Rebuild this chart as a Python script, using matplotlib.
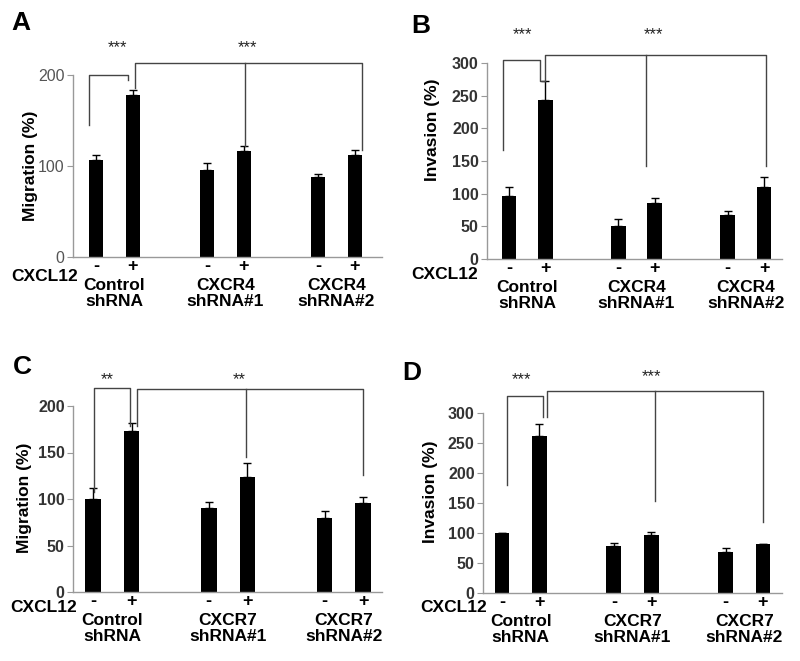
import matplotlib
matplotlib.use('Agg')
import matplotlib.pyplot as plt

plt.rcParams['font.family'] = ['Liberation Sans', 'DejaVu Sans']

W, H = 800, 661

# data
x_pos = [0, 1, 3, 4, 6, 7]
cxcl12 = ['-', '+', '-', '+', '-', '+']
groups_cxcr4 = ['Control\nshRNA', 'CXCR4\nshRNA#1', 'CXCR4\nshRNA#2']
groups_cxcr7 = ['Control\nshRNA', 'CXCR7\nshRNA#1', 'CXCR7\nshRNA#2']

a_vals = [107, 178, 96, 116, 88, 112]
a_err = [5, 6, 7, 6, 3, 6]
b_vals = [97, 243, 51, 86, 67, 110]
b_err = [13, 30, 10, 8, 7, 15]
c_vals = [100, 173, 90, 124, 80, 96]
c_err = [12, 9, 7, 15, 7, 6]
d_vals = [100, 262, 79, 96, 68, 81]
d_err = [0, 19, 4, 5, 7, 1]

fig = plt.figure(figsize=(8, 6.61), dpi=100)


def fig_text(x, y, s, **kw):
    fig.text(x / W, 1 - y / H, s, **kw)


def panel(rect, xlim, ylim, yticks, vals, errs, groups, ylabel, letter,
          letter_xy, ylabel_xy, cxcl_xy, brackets, stars, star_text,
          tick_bold=True):
    l, r, b, t = rect
    ax = fig.add_axes([l / W, 1 - b / H, (r - l) / W, (b - t) / H])
    ax.bar(x_pos, vals, width=0.4, color='black', zorder=2)
    ax.errorbar(x_pos, vals, yerr=[[0] * len(errs), errs], fmt='none',
                ecolor='black', elinewidth=1, capsize=3, capthick=1, zorder=1)
    ax.set_xlim(*xlim)
    ax.set_ylim(*ylim)
    ax.set_yticks(yticks)
    for s in ['top', 'right']:
        ax.spines[s].set_visible(False)
    for s in ['left', 'bottom']:
        ax.spines[s].set_color('#999999')
        ax.spines[s].set_linewidth(1)
    ax.tick_params(axis='y', length=4, color='#999999', labelsize=11.5,
                   labelcolor='#333333' if tick_bold else '#555555', pad=2)
    for lab in ax.get_yticklabels():
        lab.set_fontweight('bold' if tick_bold else 'normal')
    ax.set_xticks(x_pos)
    ax.set_xticklabels(cxcl12, fontsize=13, fontweight='bold')
    ax.tick_params(axis='x', length=0, pad=1)
    for i, g in enumerate(groups):
        xc = (x_pos[2 * i] + x_pos[2 * i + 1]) / 2
        ax.annotate(g, xy=(xc, 0), xycoords=('data', 'axes fraction'),
                    xytext=(0, -21), textcoords='offset pixels',
                    ha='center', va='top', fontsize=12.5, fontweight='bold',
                    linespacing=1.05, annotation_clip=False)
    for xs, ys in brackets:
        ax.plot(xs, ys, color='#444444', lw=1, clip_on=False, zorder=3)
    for sx, sy in stars:
        ax.text(sx, sy, star_text, ha='center', va='center', fontsize=12,
                color='#222222', clip_on=False)
    fig_text(*letter_xy, letter, fontsize=19, fontweight='bold',
             ha='left', va='center')
    fig_text(*ylabel_xy, ylabel, fontsize=12.5, fontweight='bold',
             rotation=90, ha='center', va='center')
    fig_text(*cxcl_xy, 'CXCL12', fontsize=12.5, fontweight='bold',
             ha='left', va='center')
    return ax


# A
panel((73, 382, 257, 75), (-0.62, 7.73), (0, 200), [0, 100, 200],
      a_vals, a_err, groups_cxcr4, 'Migration (%)', 'A',
      (11, 23), (30, 166), (11, 276),
      [([-0.2, -0.2, 0.86, 0.86], [145, 200, 200, 194]),
       ([1.05, 1.05, 7.2, 7.2], [186, 213, 213, 118]),
       ([4.03, 4.03], [213, 122])],
      [(0.57, 230), (4.1, 230)], '***', tick_bold=False)

# B
panel((487, 782, 259, 63), (-0.6, 7.49), (0, 300), [0, 50, 100, 150, 200, 250, 300],
      b_vals, b_err, groups_cxcr4, 'Invasion (%)', 'B',
      (411, 26), (433, 130), (411, 274),
      [([-0.16, -0.16, 0.85, 0.85, 1.0], [167, 305, 305, 273, 273]),
       ([1.0, 1.0, 7.06, 7.06], [273, 313, 313, 143]),
       ([3.76, 3.76], [313, 142])],
      [(0.36, 343), (3.96, 343)], '***')

# C
panel((73, 382, 592, 406), (-0.52, 7.49), (0, 200), [0, 50, 100, 150, 200],
      c_vals, c_err, groups_cxcr7, 'Migration (%)', 'C',
      (13, 367), (25, 498), (10, 607),
      [([0.03, 0.03, 0.96, 0.96], [107, 219, 219, 178]),
       ([1.14, 1.14, 7.0, 7.0], [178, 218, 218, 126]),
       ([3.96, 3.96], [218, 145])],
      [(0.36, 228), (3.8, 228)], '**')

# D
panel((483, 782, 593, 413), (-0.51, 7.51), (0, 300), [0, 50, 100, 150, 200, 250, 300],
      d_vals, d_err, groups_cxcr7, 'Invasion (%)', 'D',
      (402, 373), (430, 492), (420, 607),
      [([0.14, 0.14, 1.1, 1.1], [180, 329, 329, 293]),
       ([1.2, 1.2, 7.0, 7.0], [293, 336, 336, 118]),
       ([4.1, 4.1], [336, 153])],
      [(0.53, 356), (4.02, 361)], '***')

fig.savefig('out.png', dpi=100)
